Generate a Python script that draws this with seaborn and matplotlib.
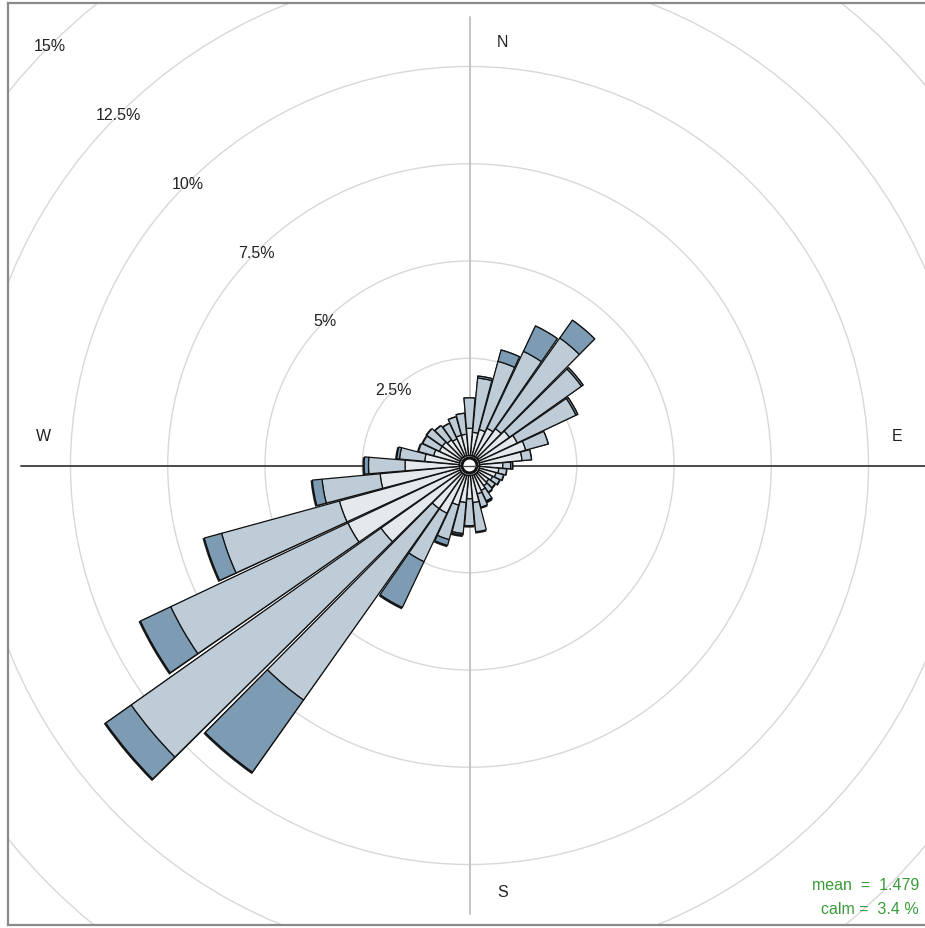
import numpy as np
import pandas as pd
import matplotlib
matplotlib.use("Agg")
import matplotlib.pyplot as plt
from matplotlib.patches import Wedge, Circle
import seaborn as sns

# Wind direction sectors (degrees, clockwise from north)
directions = [10, 20, 30, 40, 50, 60, 70, 80, 90, 100, 110, 120,
              130, 140, 150, 160, 170, 180, 190, 200, 210, 220, 230, 240,
              250, 260, 270, 280, 290, 300, 310, 320, 330, 340, 350, 360]

# Frequency (%) per direction for each wind-speed class, low -> high
speed_low = [0.60, 0.70, 0.80, 0.90, 1.00, 1.10, 1.24, 1.10, 0.60, 0.50, 0.45, 0.40,
             0.35, 0.38, 0.45, 0.50, 0.70, 0.60, 0.70, 0.80, 1.10, 1.10, 2.53, 3.20,
             3.21, 2.05, 1.40, 0.90, 0.70, 0.60, 0.60, 0.55, 0.50, 0.55, 0.55, 0.70]
speed_mid = [1.40, 1.82, 2.19, 2.86, 2.27, 1.67, 0.60, 0.24, 0.20, 0.20, 0.20, 0.20,
             0.20, 0.20, 0.30, 0.35, 0.75, 0.69, 0.80, 0.92, 1.38, 6.03, 7.87, 5.04,
             3.14, 1.50, 0.94, 0.65, 0.40, 0.47, 0.49, 0.45, 0.44, 0.49, 0.54, 0.78]
speed_high = [0.05, 0.30, 0.72, 0.56, 0.05, 0.05, 0.00, 0.00, 0.05, 0.00, 0.00, 0.00,
              0.00, 0.00, 0.02, 0.00, 0.00, 0.00, 0.04, 0.15, 1.30, 2.27, 0.80, 0.86,
              0.46, 0.25, 0.11, 0.07, 0.00, 0.00, 0.00, 0.00, 0.00, 0.00, 0.00, 0.00]

ring_levels = [2.5, 5, 7.5, 10, 12.5, 15]
ring_labels = ["2.5%", "5%", "7.5%", "10%", "12.5%", "15%"]
compass_labels = ["N", "E", "S", "W"]
mean_speed = 1.479
calm_pct = 3.4

df = pd.DataFrame({"wd": directions, "low": speed_low,
                   "mid": speed_mid, "high": speed_high})

sns.set_theme(style="white")
plt.rcParams["font.family"] = ["Liberation Sans", "DejaVu Sans"]

palette = ["#e3e9ed", "#bdccd7", "#7d9bb3"]

fig = plt.figure(figsize=(9.25, 9.29), dpi=100)
W, H = 925.0, 929.0
ax = fig.add_axes([7.5 / W, (H - 926) / H, (W - 7.5) / W, (926 - 4) / H])

scale = 38.9           # pixels per percent
off = 10 / scale       # inner offset for the calm circle
cx_px, cy_px = 469.5, 466.5
ax.set_xlim(-(cx_px - 7.5) / scale, (W - cx_px) / scale)
ax.set_ylim(-(926 - cy_px) / scale, (cy_px - 4) / scale)
ax.set_aspect("equal")
ax.set_xticks([])
ax.set_yticks([])
for side, sp in ax.spines.items():
    sp.set_color("#8a8a8a")
    sp.set_linewidth(1.6)
ax.spines["right"].set_visible(False)

# grid rings
for lev in ring_levels:
    ax.add_patch(Circle((0, 0), off + lev, fill=False, ec="#d8d8d8",
                        lw=1.0, zorder=1))

# axis cross
lim = 11.53
ax.plot([0, 0], [-lim, lim], color="#c4c4c4", lw=1.4, zorder=1)
ax.plot([-lim, 12.5], [0, 0], color="#4a4a4a", lw=1.4, zorder=1)

# ring labels along the NW diagonal
for lev, lab in zip(ring_levels, ring_labels):
    r = off + lev
    ax.text(-r * np.sin(np.pi / 4), r * np.cos(np.pi / 4), lab,
            ha="center", va="center", fontsize=11.5, color="#222222", zorder=5)

# compass letters
pos = {"N": (0.84, 10.89), "E": (10.99, 0.76), "S": (0.84, -10.96), "W": (-10.94, 0.76)}
for lab in compass_labels:
    x, y = pos[lab]
    ax.text(x, y, lab, ha="center", va="center", fontsize=11.5,
            color="#222222", zorder=5)

hw = 4.7  # half width of each sector in degrees
cols = ["low", "mid", "high"]
for _, row in df.iterrows():
    b = row["wd"]
    t1, t2 = 90 - b - hw, 90 - b + hw
    total = row[cols].sum()
    # thin dark shadow under each sector
    ax.add_patch(Wedge((-0.01, -0.015), off + total + 0.035, t1 - 0.12, t2 + 0.12,
                       width=total + 0.035, fc="#1a1a1a", ec="none", zorder=2))
    cum = 0.0
    for c, colr in zip(cols, palette):
        v = row[c]
        if v <= 0:
            continue
        r1 = off + cum + v
        ax.add_patch(Wedge((0, 0), r1, t1, t2, width=v, fc=colr,
                           ec="#111111", lw=0.9, zorder=3))
        cum += v

# calm circle
ax.add_patch(Circle((0, 0), off * 0.75, fc="white", ec="#111111", lw=2.2, zorder=4))
ax.plot([-off * 0.6, off * 0.6], [0, 0], color="#4a4a4a", lw=1.0, zorder=4)

green = "#3a9a3a"
ax.text(11.55, -10.76, f"mean  =  {mean_speed:.3f}", ha="right", va="center",
        fontsize=11.5, color=green, zorder=5)
ax.text(11.55, -11.40, f"calm =  {calm_pct:.1f} %", ha="right", va="center",
        fontsize=11.5, color=green, zorder=5)

fig.savefig("out.png", dpi=100)
